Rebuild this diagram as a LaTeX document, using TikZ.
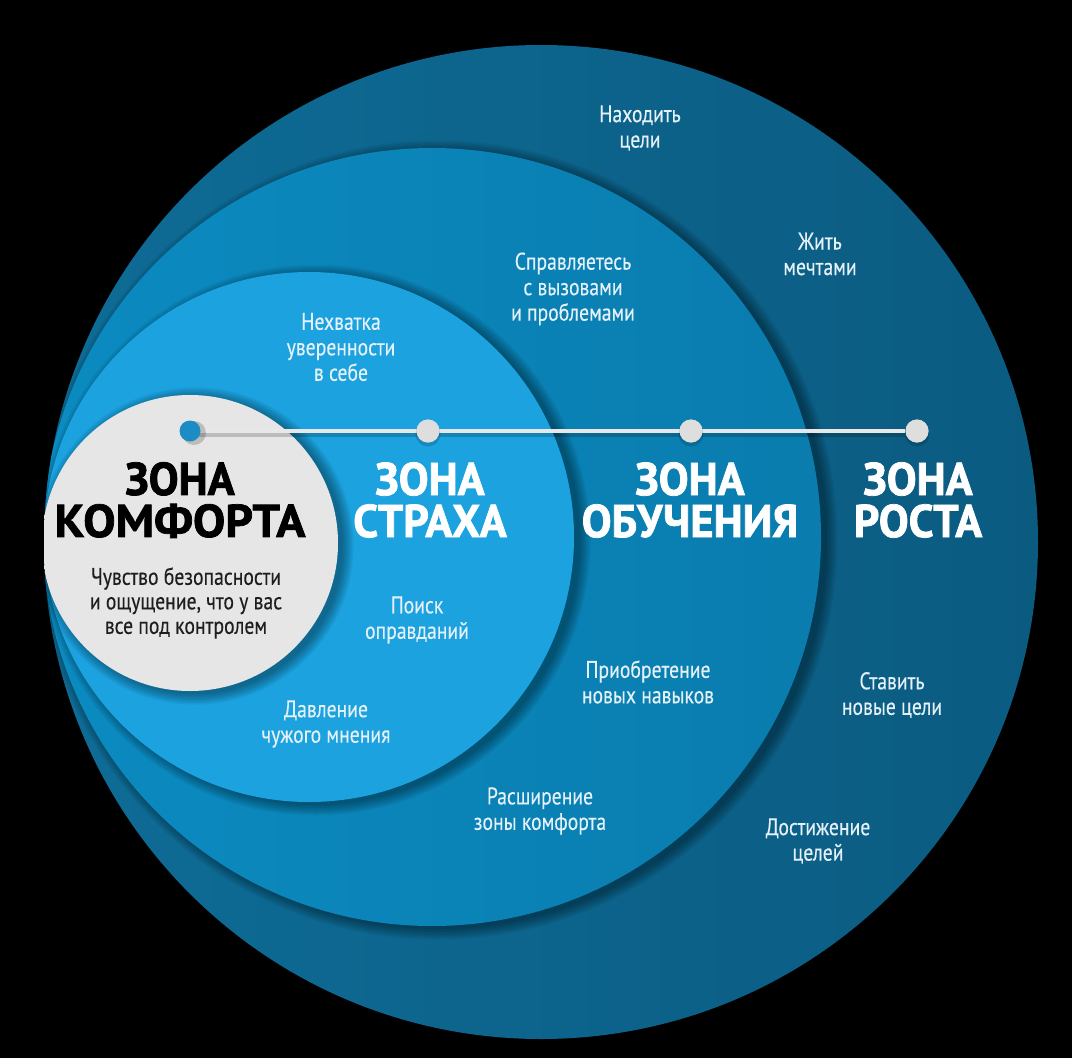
\documentclass[tikz,border=0pt]{standalone}
\usepackage{fontspec}
\setmainfont{PT Sans}
\newfontfamily\narrowfont{PT Sans}[FakeStretch=0.82, FakeBold=0.3]
\newfontfamily\headfont{PT Sans}[FakeStretch=0.97, BoldFeatures={FakeBold=1.6}]
\newfontfamily\comffont{PT Sans}[FakeStretch=1.05, BoldFeatures={FakeBold=1.6}]
\definecolor{bgc}{HTML}{000000}
\definecolor{outerc}{HTML}{0B5B81}
\definecolor{outerl}{HTML}{0E6C96}
\definecolor{learnc}{HTML}{0A7CAE}
\definecolor{learnl}{HTML}{0B8BC1}
\definecolor{fearc}{HTML}{1BA2DF}
\definecolor{comfc}{HTML}{E6E6E6}
\definecolor{comfd}{HTML}{D0D0D0}
\definecolor{dotc}{HTML}{DEDEDE}
\definecolor{dotb}{HTML}{1C8CC4}
\definecolor{linec}{HTML}{E8E8E8}
\definecolor{darktext}{HTML}{1E1E1E}
\definecolor{labeltext}{HTML}{E4F1F8}
\pgfdeclareradialshading{comfshade}{\pgfpoint{0bp}{0bp}}{color(0bp)=(comfc); color(40bp)=(comfc); color(50bp)=(comfd)}
\tikzset{
  label/.style={align=center, text=labeltext, inner sep=0pt,
    font=\narrowfont\fontsize{24}{25.5}\selectfont},
  darklabel/.style={align=center, text=darktext, inner sep=0pt,
    font=\narrowfont\fontsize{24}{24.5}\selectfont},
  zonetitle/.style={align=center, inner sep=0pt,
    font=\headfont\bfseries\fontsize{46}{42}\selectfont},
  stopdot/.style={circle, fill=dotc, minimum size=23pt, inner sep=0pt},
  firstdot/.style={circle, fill=dotb, minimum size=21pt, inner sep=0pt},
}
\begin{document}
\begin{tikzpicture}[x=1pt,y=-1pt]
\fill[bgc] (0,0) rectangle (1072,1058);
\useasboundingbox (0,0) rectangle (1072,1058);
% outer circle (growth)
\shade[left color=outerl, right color=outerc] (541,542) circle (497);
\begin{scope}
  \clip (541,542) circle (497);
  \foreach \k in {0,...,7}
    \fill[black, opacity=0.05] (438,540) circle ({389+\k*1.5});
  \shade[left color=learnl, right color=learnc] (432,537) circle (389);
  \foreach \k in {0,...,7}
    \fill[black, opacity=0.05] (315,540) circle ({265+\k*1.5});
  \fill[fearc] (309,537) circle (265);
  \foreach \k in {0,...,7}
    \fill[black, opacity=0.05] (195,546) circle ({148+\k*1.5});
  \shade[shading=comfshade] (190,543) circle (148);
\end{scope}
% stops on the line
\coordinate (d1) at (190,431);
\node[stopdot] (d2) at (428,431) {};
\node[stopdot] (d3) at (691,431) {};
\node[stopdot] (d4) at (917,431) {};
\draw[black, opacity=0.18, line width=6pt] ([yshift=-3pt]d1) -- ([yshift=-3pt]d4.west);
\draw[linec, line width=4pt] (d1) -- (d4);
\foreach \n in {d2,d3,d4}
  \fill[black, opacity=0.15] ([yshift=-3pt]\n.center) circle (12.5);
\node[stopdot] at (d2) {};
\node[stopdot] at (d3) {};
\node[stopdot] at (d4) {};
\fill[black, opacity=0.18] (194,433) circle (12);
\node[firstdot] (d1dot) at (d1) {};
% zone titles
\node[zonetitle, text=black] (tcomf) at (180,500) {ЗОНА\\{\comffont\bfseries КОМФОРТА}};
\node[zonetitle, text=white] (tfear) at (430,500) {ЗОНА\\СТРАХА};
\node[zonetitle, text=white] (tlearn) at (690,500) {ЗОНА\\ОБУЧЕНИЯ};
\node[zonetitle, text=white] (tgrow) at (918,500) {ЗОНА\\РОСТА};
% comfort description
\node[darklabel] (comfdesc) at (186,603) {Чувство безопасности\\и ощущение, что у вас\\все под контролем};
% labels
\node[label] (l1) at (640,128) {Находить\\цели};
\node[label] (l2) at (820,254) {Жить\\мечтами};
\node[label] (l3) at (573,289) {Справляетесь\\с вызовами\\и проблемами};
\node[label] (l4) at (341,347) {Нехватка\\уверенности\\в себе};
\node[label] (l5) at (417,620) {Поиск\\оправданий};
\node[label] (l6) at (648,682) {Приобретение\\новых навыков};
\node[label] (l7) at (892,695) {Ставить\\новые цели};
\node[label] (l8) at (326,724) {Давление\\чужого мнения};
\node[label] (l9) at (540,811) {Расширение\\зоны комфорта};
\node[label] (l10) at (818,841) {Достижение\\целей};
\end{tikzpicture}
\end{document}
